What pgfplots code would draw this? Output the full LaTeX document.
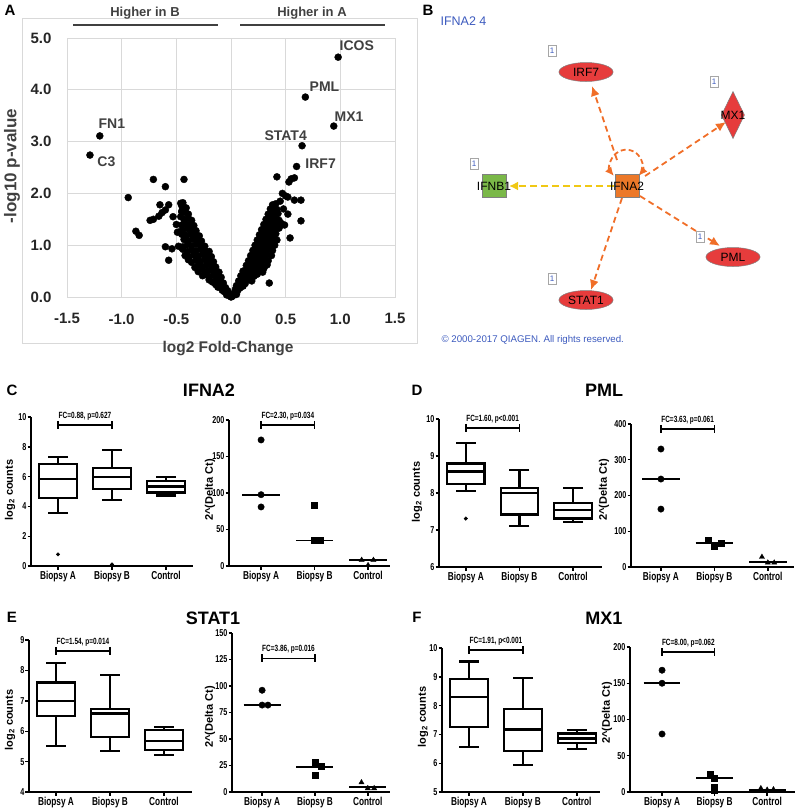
\documentclass[border=0pt]{standalone}
\usepackage{pgfplots}
\pgfplotsset{compat=1.18}
\usetikzlibrary{arrows.meta}
\usepackage{fontspec}
\setmainfont{Liberation Sans}
\newfontfamily\narrowfont[FakeStretch=0.72]{Liberation Sans}
\definecolor{gridgray}{RGB}{217,217,217}
\definecolor{darkg}{RGB}{64,64,64}
\definecolor{nodeRed}{RGB}{230,60,60}
\definecolor{nodeOrange}{RGB}{236,120,40}
\definecolor{nodeGreen}{RGB}{122,184,72}
\definecolor{arrOrange}{RGB}{240,110,40}
\definecolor{arrYellow}{RGB}{240,200,20}
\definecolor{blueT}{RGB}{60,90,190}
\newcommand\xtkfont{\narrowfont\bfseries\fontsize{11.5}{11.5}\selectfont}
\newcommand\ytkfont{\narrowfont\bfseries\fontsize{10}{10}\selectfont}
\newcommand\fcfont{\narrowfont\bfseries\fontsize{9}{9}\selectfont}
\newcommand\titlefont{\bfseries\fontsize{18}{18}\selectfont}
\newcommand\letterfont{\bfseries\fontsize{15}{15}\selectfont}
\newcommand\ylabfont{\bfseries\fontsize{11}{11}\selectfont}
\newcommand\bracket[2]{%
 \draw[line width=1.5pt] (axis cs:1,#1) -- (axis cs:2,#1);
 \draw[line width=1.5pt] (axis cs:1,#1) ++(0pt,4pt) -- ++(0pt,-8pt);
 \draw[line width=1.5pt] (axis cs:2,#1) ++(0pt,4pt) -- ++(0pt,-8pt);
 \node[font=\fcfont, anchor=base, inner sep=0pt] at ([yshift=6.5pt]axis cs:1.5,#1) {#2};}
% box: left, centre, right, lower whisker, Q1, median, Q3, upper whisker
\newcommand\bxp[8]{%
 \addplot[bx, line cap=rect] coordinates {(#1,#5)(#3,#5)(#3,#7)(#1,#7)(#1,#5)};
 \addplot[bx] coordinates {(#1,#6)(#3,#6)};
 \addplot[bx, mark=-, mark size=10pt, mark options={solid, line width=2.2pt}] coordinates {(#2,#7)(#2,#8)};
 \addplot[bx, mark=-, mark size=10pt, mark options={solid, line width=2.2pt}] coordinates {(#2,#5)(#2,#4)};}
\tikzset{onebox/.style={draw=gray!70, fill=white, line width=0.6pt, inner sep=0pt, minimum width=8pt, minimum height=11pt, text=blueT, font=\fontsize{8}{8}\selectfont},
 nlab/.style={font=\fontsize{12}{12}\selectfont}}
\pgfplotsset{
 prism/.style={scale only axis, anchor=south west, clip=false,
  axis x line*=bottom, axis y line*=left,
  axis line style={line width=2.1pt, black},
  tick style={black, line width=1.4pt}, tick align=outside, major tick length=3.5pt,
  xtick={1,2,3}, xticklabels={Biopsy A,Biopsy B,Control},
  xticklabel style={font=\xtkfont, inner sep=1pt},
  yticklabel style={font=\ytkfont, inner sep=1pt},
  /pgf/number format/assume math mode=true},
 bx/.style={black, line width=2.2pt, solid},
 md/.style={black, line width=1.9pt},
 ca/.style={only marks, mark=*, mark size=3.2pt, black},
 cb/.style={only marks, mark=square*, mark size=3pt, black},
 cc/.style={only marks, mark=triangle*, mark size=3pt, black},
 ol/.style={only marks, mark=*, mark size=1.8pt, black},
}
\begin{document}
\begin{tikzpicture}
% ---------------- Panel A: volcano ----------------
\draw[gridgray, line width=0.8pt] (22pt,-18pt) rectangle (417pt,-343pt);
\node[font=\letterfont] at (10pt,-10pt) {A};
\node[font=\bfseries\fontsize{13}{13}\selectfont, text=darkg] at (145pt,-13pt) {Higher in B};
\node[font=\bfseries\fontsize{13}{13}\selectfont, text=darkg] at (312pt,-13pt) {Higher in A};
\draw[darkg, line width=2pt] (73pt,-25pt) -- (218pt,-25pt);
\draw[darkg, line width=2pt] (240pt,-25pt) -- (385pt,-25pt);
\node[font=\bfseries\fontsize{15.5}{15.5}\selectfont, text=darkg] at (228pt,-349pt) {log2 Fold-Change};
\node[font=\bfseries\fontsize{17}{17}\selectfont, text=darkg, rotate=90] at (12pt,-166pt) {-log10 p-value};
\begin{axis}[at={(67pt,-297pt)}, anchor=south west, scale only axis, width=328pt, height=259pt,
 xmin=-1.5, xmax=1.5, ymin=0, ymax=5,
 xtick={-1.5,-1,-0.5,0,0.5,1,1.5}, ytick={0,1,2,3,4,5},
 grid=major, major grid style={draw=gridgray, line width=0.8pt},
 axis line style={draw=gridgray, line width=0.8pt},
 major tick length=0pt,
 tick label style={font=\bfseries\fontsize{15}{15}\selectfont, text=black!85},
 /pgf/number format/.cd, fixed, fixed zerofill, precision=1, assume math mode=true,
 /pgfplots/.cd,
 xticklabel style={yshift=-13pt}, yticklabel style={xshift=-12pt},
 clip=false]
\addplot[only marks, mark=*, mark size=3.5pt, black] coordinates {
(0.00,0.00)(-0.01,0.02)(0.01,0.01)(-0.02,0.06)(-0.04,0.04)(-0.06,0.1)(-0.03,0.12)(-0.08,0.13)
(-0.05,0.18)(-0.09,0.2)(-0.12,0.19)(-0.14,0.24)
(-0.07,0.27)(-0.1,0.3)(-0.14,0.31)(-0.17,0.29)(-0.2,0.33)
(-0.09,0.38)(-0.13,0.4)(-0.16,0.42)(-0.2,0.39)(-0.23,0.43)(-0.26,0.41)
(-0.11,0.48)(-0.15,0.5)(-0.19,0.52)(-0.22,0.5)(-0.26,0.53)(-0.3,0.49)
(-0.14,0.58)(-0.18,0.6)(-0.22,0.62)(-0.26,0.59)(-0.3,0.61)(-0.33,0.57)
(-0.16,0.68)(-0.2,0.7)(-0.24,0.72)(-0.28,0.69)(-0.32,0.71)(-0.36,0.67)(-0.39,0.72)
(-0.18,0.78)(-0.22,0.8)(-0.26,0.82)(-0.3,0.79)(-0.34,0.81)(-0.38,0.78)(-0.42,0.8)
(-0.2,0.88)(-0.24,0.9)(-0.28,0.92)(-0.32,0.89)(-0.36,0.91)(-0.4,0.88)(-0.44,0.92)
(-0.24,0.98)(-0.28,1.0)(-0.32,1.02)(-0.36,0.99)(-0.4,1.01)(-0.44,0.97)
(-0.27,1.08)(-0.31,1.1)(-0.35,1.12)(-0.39,1.09)(-0.43,1.11)
(-0.29,1.18)(-0.33,1.2)(-0.37,1.22)(-0.41,1.19)(-0.45,1.21)
(-0.32,1.28)(-0.36,1.3)(-0.4,1.32)(-0.44,1.29)(-0.47,1.26)
(-0.34,1.38)(-0.38,1.4)(-0.42,1.42)(-0.45,1.39)
(-0.36,1.48)(-0.39,1.52)(-0.43,1.5)(-0.46,1.55)
(-0.39,1.6)(-0.42,1.63)(-0.45,1.66)(-0.41,1.72)(-0.45,1.76)(-0.44,1.82)
(-0.71,2.27)(-0.6,2.13)(-0.43,2.27)(-0.94,1.92)(-0.87,1.27)(-0.84,1.19)
(-0.74,1.48)(-0.71,1.5)(-0.66,1.56)(-0.63,1.63)(-0.6,1.68)(-0.65,1.78)(-0.57,1.78)
(-0.53,1.55)(-0.6,0.97)(-0.54,0.93)(-0.57,0.71)(-0.45,0.95)(-0.48,0.98)
(-0.49,1.25)(-0.5,1.4)(-0.46,1.81)(-0.45,1.64)
(-1.2,3.11)(-1.29,2.74)
(0.02,0.03)(0.03,0.08)(0.05,0.05)(0.06,0.12)(0.04,0.15)(0.08,0.17)
(0.05,0.22)(0.08,0.24)(0.11,0.21)(0.13,0.26)
(0.07,0.31)(0.1,0.33)(0.13,0.3)(0.16,0.34)(0.19,0.31)
(0.09,0.41)(0.12,0.42)(0.15,0.39)(0.18,0.43)(0.21,0.4)(0.24,0.44)
(0.11,0.5)(0.14,0.52)(0.17,0.49)(0.2,0.53)(0.23,0.5)(0.26,0.52)(0.29,0.48)
(0.14,0.61)(0.17,0.59)(0.2,0.62)(0.23,0.6)(0.26,0.63)(0.29,0.59)
(0.16,0.7)(0.19,0.72)(0.22,0.69)(0.25,0.71)(0.28,0.68)(0.31,0.72)(0.34,0.7)
(0.18,0.8)(0.21,0.82)(0.24,0.79)(0.27,0.81)(0.3,0.78)(0.33,0.82)(0.37,0.8)
(0.2,0.9)(0.23,0.92)(0.26,0.89)(0.29,0.91)(0.32,0.88)(0.35,0.92)(0.38,0.9)
(0.22,1.0)(0.25,1.02)(0.28,0.99)(0.31,1.01)(0.34,0.98)(0.37,1.02)(0.4,1.0)
(0.24,1.1)(0.27,1.12)(0.3,1.09)(0.33,1.11)(0.36,1.08)(0.39,1.12)(0.42,1.1)
(0.26,1.2)(0.29,1.22)(0.32,1.19)(0.35,1.21)(0.38,1.18)(0.41,1.22)
(0.28,1.3)(0.31,1.32)(0.34,1.29)(0.37,1.31)(0.4,1.28)(0.44,1.33)
(0.3,1.4)(0.33,1.42)(0.36,1.39)(0.39,1.41)(0.42,1.38)(0.46,1.42)
(0.32,1.5)(0.35,1.52)(0.38,1.49)(0.41,1.51)(0.44,1.48)
(0.34,1.6)(0.37,1.62)(0.4,1.59)(0.43,1.61)
(0.36,1.7)(0.39,1.72)(0.42,1.69)(0.38,1.78)(0.41,1.8)
(0.42,2.32)(0.53,2.22)(0.55,2.28)(0.58,2.3)(0.47,2.0)(0.5,1.95)(0.52,1.93)
(0.58,1.87)(0.64,1.87)(0.64,1.47)(0.54,1.14)(0.49,1.39)(0.35,0.27)(0.45,1.85)
(0.48,1.7)(0.52,1.6)(0.3,0.55)(0.33,0.62)
(0.98,4.63)(0.68,3.86)(0.94,3.3)(0.65,2.92)(0.6,2.52)
};
\node[font=\bfseries\fontsize{14}{14}\selectfont, text=darkg] at (axis cs:1.15,4.86) {ICOS};
\node[font=\bfseries\fontsize{14}{14}\selectfont, text=darkg] at (axis cs:0.855,4.06) {PML};
\node[font=\bfseries\fontsize{14}{14}\selectfont, text=darkg] at (axis cs:1.08,3.48) {MX1};
\node[font=\bfseries\fontsize{14}{14}\selectfont, text=darkg] at (axis cs:0.5,3.12) {STAT4};
\node[font=\bfseries\fontsize{14}{14}\selectfont, text=darkg] at (axis cs:0.82,2.58) {IRF7};
\node[font=\bfseries\fontsize{14}{14}\selectfont, text=darkg] at (axis cs:-1.09,3.35) {FN1};
\node[font=\bfseries\fontsize{14}{14}\selectfont, text=darkg] at (axis cs:-1.14,2.61) {C3};
\end{axis}
% ---------------- Panel B: network ----------------
\node[font=\letterfont] at (428pt,-10pt) {B};
\node[anchor=west, text=blueT, font=\fontsize{12.5}{12.5}\selectfont] at (437pt,-21pt) {IFNA2 4};
\node[anchor=west, text=blueT, font=\fontsize{9.7}{10}\selectfont] at (438pt,-340pt) {\textcopyright\ 2000-2017 QIAGEN. All rights reserved.};
\begin{axis}[at={(400pt,-340pt)}, anchor=south west, scale only axis, width=400pt, height=340pt,
 xmin=400, xmax=800, ymin=-340, ymax=0, hide axis, clip=false]
\addplot[arrOrange, line width=1.8pt, dash pattern=on 6pt off 4pt, -{Latex[length=10pt,width=9pt]}] coordinates {(617,-160) (592,-86)};
\addplot[arrOrange, line width=1.8pt, dash pattern=on 6pt off 4pt, -{Latex[length=10pt,width=9pt]}] coordinates {(645,-176) (726,-122)};
\addplot[arrOrange, line width=1.8pt, dash pattern=on 6pt off 4pt, -{Latex[length=10pt,width=9pt]}] coordinates {(640,-196) (720,-246)};
\addplot[arrOrange, line width=1.8pt, dash pattern=on 6pt off 4pt, -{Latex[length=10pt,width=9pt]}] coordinates {(622,-198) (591,-290)};
\addplot[arrYellow, line width=1.8pt, dash pattern=on 7pt off 4pt, -{Latex[length=9pt,width=9pt]}] coordinates {(614,-186) (509,-186)};
\draw[arrOrange, line width=1.8pt, dash pattern=on 5pt off 3pt, {Latex[length=9pt,width=8pt]}-{Latex[length=9pt,width=8pt]}] (axis cs:614,-176) arc[start angle=220, end angle=-40, radius=16pt];
\addplot[only marks, mark=*, mark size=9.5pt, mark options={xscale=2.85, fill=nodeRed, draw=gray, line width=0.5pt}] coordinates {(586,-72) (733,-257) (586,-300)};
\addplot[only marks, mark=diamond*, mark size=23.5pt, mark options={xscale=0.65, fill=nodeRed, draw=gray, line width=0.5pt}] coordinates {(733,-115)};
\addplot[only marks, mark=square*, mark size=12pt, mark options={yscale=0.95, fill=nodeOrange, draw=gray, line width=0.5pt}] coordinates {(627,-186)};
\addplot[only marks, mark=square*, mark size=12pt, mark options={yscale=0.95, fill=nodeGreen, draw=gray, line width=0.5pt}] coordinates {(494,-186)};
\end{axis}
\node[nlab] at (586pt,-72pt) {IRF7};
\node[nlab] at (733pt,-115pt) {MX1};
\node[nlab] at (627pt,-186pt) {IFNA2};
\node[nlab] at (494pt,-186pt) {IFNB1};
\node[nlab] at (733pt,-257pt) {PML};
\node[nlab] at (586pt,-300pt) {STAT1};
\node[onebox] at (552pt,-51pt) {1};
\node[onebox] at (714pt,-82pt) {1};
\node[onebox] at (474pt,-164pt) {1};
\node[onebox] at (700pt,-237pt) {1};
\node[onebox] at (552pt,-279pt) {1};
% ---------------- Panel C ----------------
\node[font=\letterfont] at (12pt,-390pt) {C};
\node[font=\titlefont] at (209pt,-390pt) {IFNA2};
\node[font=\ylabfont, rotate=90] at (10pt,-490pt) {log\textsubscript{2} counts};
\node[font=\ylabfont, rotate=90] at (210pt,-490pt) {2\textasciicircum(Delta Ct)};
\begin{axis}[prism, at={(31pt,-566pt)}, width=162pt, height=149pt, xmin=0.5, xmax=3.5, ymin=0, ymax=10, ytick={0,2,4,6,8,10}]
\bxp{0.65}{1}{1.35}{3.56}{4.56}{5.84}{6.82}{7.29}
\bxp{1.65}{2}{2.35}{4.44}{5.18}{6.0}{6.56}{7.76}
\bxp{2.65}{3}{3.35}{4.73}{4.93}{5.33}{5.71}{5.96}
\addplot[ol] coordinates {(1,0.78)(2,0.1)};
\bracket{9.46}{FC=0.88, p=0.627}
\end{axis}
\begin{axis}[prism, at={(229pt,-566pt)}, width=161pt, height=146pt, xmin=0.4, xmax=3.41, ymin=0, ymax=200, ytick={0,50,100,150,200}]
\addplot[md] coordinates {(0.65,97.7)(1.35,97.7)};
\addplot[md] coordinates {(1.65,35)(2.35,35)};
\addplot[md] coordinates {(2.65,8.2)(3.35,8.2)};
\addplot[ca] coordinates {(1,172.7)(1,97.7)(1,80.9)};
\addplot[cb] coordinates {(2,82.7)(2,35)(2.1,35)};
\addplot[cc] coordinates {(2.88,8.2)(3.1,8.2)(3,1)};
\bracket{193}{FC=2.30, p=0.034}
\end{axis}
% ---------------- Panel D ----------------
\node[font=\letterfont] at (417pt,-390pt) {D};
\node[font=\titlefont] at (604pt,-390pt) {PML};
\node[font=\ylabfont, rotate=90] at (417pt,-492pt) {log\textsubscript{2} counts};
\node[font=\ylabfont, rotate=90] at (604pt,-490pt) {2\textasciicircum(Delta Ct)};
\begin{axis}[prism, at={(439pt,-567pt)}, width=163pt, height=148pt, xmin=0.5, xmax=3.54, ymin=6, ymax=10, ytick={6,7,8,9,10}]
\bxp{0.65}{1}{1.35}{8.06}{8.24}{8.58}{8.8}{9.35}
\bxp{1.65}{2}{2.35}{7.11}{7.42}{7.99}{8.14}{8.62}
\bxp{2.65}{3}{3.35}{7.22}{7.31}{7.54}{7.74}{8.14}
\addplot[ol] coordinates {(1,7.31)};
\bracket{9.76}{FC=1.60, p<0.001}
\end{axis}
\begin{axis}[prism, at={(631pt,-567pt)}, width=163pt, height=143pt, xmin=0.44, xmax=3.49, ymin=0, ymax=400, ytick={0,100,200,300,400}]
\addplot[md] coordinates {(0.65,246)(1.35,246)};
\addplot[md] coordinates {(1.65,68)(2.35,68)};
\addplot[md] coordinates {(2.65,15)(3.35,15)};
\addplot[ca] coordinates {(1,330)(1,246)(1,162)};
\addplot[cb] coordinates {(1.88,75)(2,58)(2.12,66)};
\addplot[cc] coordinates {(2.89,28)(3,12)(3.12,12)};
\bracket{386}{FC=3.63, p=0.061}
\end{axis}
% ---------------- Panel E ----------------
\node[font=\letterfont] at (12pt,-617pt) {E};
\node[font=\titlefont] at (213pt,-618pt) {STAT1};
\node[font=\ylabfont, rotate=90] at (10pt,-720pt) {log\textsubscript{2} counts};
\node[font=\ylabfont, rotate=90] at (210pt,-717pt) {2\textasciicircum(Delta Ct)};
\begin{axis}[prism, at={(29pt,-792pt)}, width=163pt, height=152pt, xmin=0.5, xmax=3.52, ymin=4, ymax=9, ytick={4,5,6,7,8,9}]
\bxp{0.65}{1}{1.35}{5.52}{6.5}{7.0}{7.6}{8.25}
\bxp{1.65}{2}{2.35}{5.35}{5.8}{6.58}{6.72}{7.85}
\bxp{2.65}{3}{3.35}{5.22}{5.38}{5.68}{6.05}{6.15}
\bracket{8.64}{FC=1.54, p=0.014}
\end{axis}
\begin{axis}[prism, at={(232pt,-792pt)}, width=158pt, height=159pt, xmin=0.43, xmax=3.42, ymin=0, ymax=150, ytick={0,25,50,75,100,125,150}]
\addplot[md] coordinates {(0.65,82)(1.35,82)};
\addplot[md] coordinates {(1.65,24)(2.35,24)};
\addplot[md] coordinates {(2.65,5)(3.35,5)};
\addplot[ca] coordinates {(1,96)(1,82)(1.11,82)};
\addplot[cb] coordinates {(2,28)(2.12,24)(2,16)};
\addplot[cc] coordinates {(2.88,9)(3,3.5)(3.12,3.5)};
\bracket{126}{FC=3.86, p=0.016}
\end{axis}
% ---------------- Panel F ----------------
\node[font=\letterfont] at (417pt,-617pt) {F};
\node[font=\titlefont] at (604pt,-618pt) {MX1};
\node[font=\ylabfont, rotate=90] at (423pt,-717pt) {log\textsubscript{2} counts};
\node[font=\ylabfont, rotate=90] at (607pt,-713pt) {2\textasciicircum(Delta Ct)};
\begin{axis}[prism, at={(442pt,-792pt)}, width=158pt, height=144pt, xmin=0.5, xmax=3.43, ymin=5, ymax=10, ytick={5,6,7,8,9,10}]
\bxp{0.65}{1}{1.35}{6.57}{7.27}{8.31}{8.92}{9.53}
\bxp{1.65}{2}{2.35}{5.93}{6.43}{7.17}{7.88}{8.95}
\bxp{2.65}{3}{3.35}{6.49}{6.69}{6.86}{7.03}{7.15}
\bracket{9.93}{FC=1.91, p<0.001}
\end{axis}
\begin{axis}[prism, at={(630pt,-792pt)}, width=165pt, height=145pt, xmin=0.39, xmax=3.53, ymin=0, ymax=200, ytick={0,50,100,150,200}]
\addplot[md] coordinates {(0.65,150)(1.35,150)};
\addplot[md] coordinates {(1.65,19.6)(2.35,19.6)};
\addplot[md] coordinates {(2.65,3)(3.35,3)};
\addplot[ca] coordinates {(1,168)(1,150)(1,80)};
\addplot[cb] coordinates {(1.92,24)(2,19.6)(2,7)(2,3)};
\addplot[cc] coordinates {(2.88,5)(3,3)(3.12,3.5)};
\bracket{193}{FC=8.00, p=0.062}
\end{axis}
\pgfresetboundingbox
\useasboundingbox (0pt,0pt) rectangle (800pt,-812pt);
\end{tikzpicture}
\end{document}
